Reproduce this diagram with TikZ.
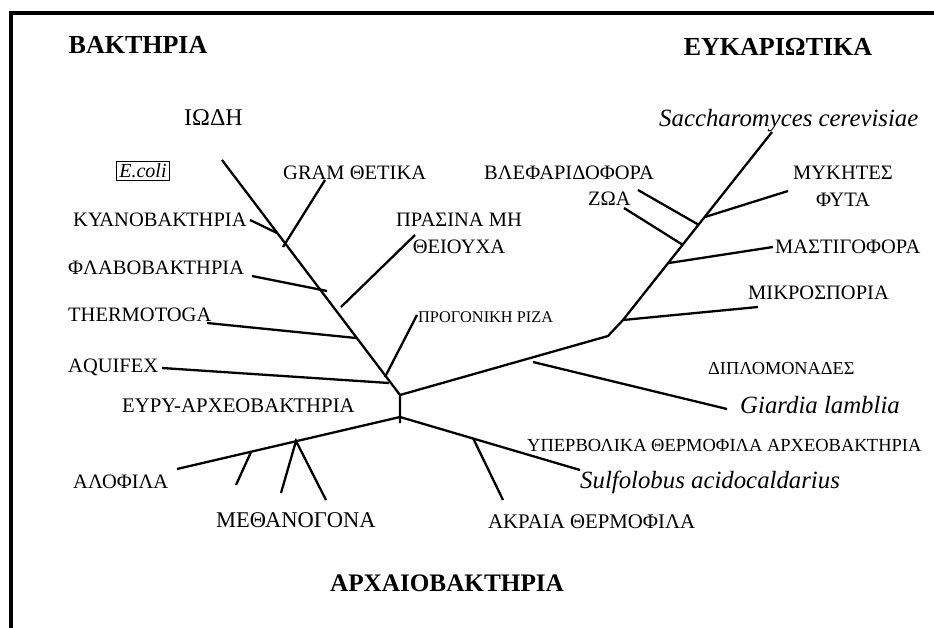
\documentclass[tikz,border=0pt]{standalone}
\usepackage{fontspec}
\setmainfont{Liberation Serif}
\usepackage{tikz}
\usetikzlibrary{positioning}
\tikzstyle{taxon} = [inner sep=0pt, anchor=west, font=\fontsize{20.5}{27}\selectfont]
\tikzstyle{kingdom} = [inner sep=0pt, font=\fontsize{26}{28}\selectfont\bfseries]
\tikzstyle{species} = [inner sep=0pt, anchor=base west, font=\fontsize{24.8}{26}\selectfont\itshape]
\tikzstyle{branch} = [line width=2.3pt]

\begin{document}
\begin{tikzpicture}[x=1pt,y=-1pt]
\useasboundingbox (0,0) rectangle (934,628);
\fill[white] (0,0) rectangle (934,628);
\draw[line width=3.5pt] (11,628) -- (11,13) -- (934,13);

\node[kingdom] (bact) at (138,45) {ΒΑΚΤΗΡΙΑ};
\node[kingdom] (euk) at (778,47) {ΕΥΚΑΡΙΩΤΙΚΑ};
\node[kingdom, font=\fontsize{25.2}{28}\selectfont\bfseries] (arch) at (447,583) {ΑΡΧΑΙΟΒΑΚΤΗΡΙΑ};

\node[taxon, font=\fontsize{24}{26}\selectfont] (iodi) at (184,118) {ΙΩΔΗ};
\node[draw, line width=0.8pt, inner sep=2.5pt, font=\fontsize{20}{22}\selectfont\itshape] (ecoli) at (143,171) {E.coli};
\node[taxon] (gram) at (283,173) {GRAM ΘΕΤΙΚΑ};
\node[taxon] (cyano) at (73,220) {ΚΥΑΝΟΒΑΚΤΗΡΙΑ};
\node[taxon, anchor=center, align=center] (green) at (459,233) {ΠΡΑΣΙΝΑ ΜΗ\\ΘΕΙΟΥΧΑ};
\node[taxon] (flavo) at (68,268) {ΦΛΑΒΟΒΑΚΤΗΡΙΑ};
\node[taxon] (thermo) at (68,315) {THERMOTOGA};
\node[taxon, font=\fontsize{16.3}{18}\selectfont] (origin) at (418,317) {ΠΡΟΓΟΝΙΚΗ ΡΙΖΑ};
\node[taxon] (aquifex) at (68,367) {AQUIFEX};
\node[taxon, font=\fontsize{20.8}{22}\selectfont] (eury) at (122,406) {ΕΥΡΥ-ΑΡΧΕΟΒΑΚΤΗΡΙΑ};
\node[taxon] (halo) at (73,482) {ΑΛΟΦΙΛΑ};
\node[taxon, font=\fontsize{22.5}{24}\selectfont] (methano) at (216,520) {ΜΕΘΑΝΟΓΟΝΑ};
\node[taxon, font=\fontsize{20.8}{22}\selectfont] (extreme) at (488,522) {ΑΚΡΑΙΑ ΘΕΡΜΟΦΙΛΑ};
\node[taxon, font=\fontsize{18.5}{20}\selectfont] (hyper) at (527,445) {ΥΠΕΡΒΟΛΙΚΑ ΘΕΡΜΟΦΙΛΑ ΑΡΧΕΟΒΑΚΤΗΡΙΑ};
\node[species] (sulfo) at (580,488) {Sulfolobus acidocaldarius};
\node[species] (giardia) at (740,413) {Giardia lamblia};
\node[taxon, font=\fontsize{18.3}{20}\selectfont] (diplo) at (708,369) {ΔΙΠΛΟΜΟΝΑΔΕΣ};
\node[taxon] (micro) at (748,293) {ΜΙΚΡΟΣΠΟΡΙΑ};
\node[taxon] (masti) at (775,247) {ΜΑΣΤΙΓΟΦΟΡΑ};
\node[taxon, anchor=center, align=center] (fungi) at (843,186) {ΜΥΚΗΤΕΣ\\ΦΥΤΑ};
\node[taxon] (cilia) at (484,173) {ΒΛΕΦΑΡΙΔΟΦΟΡΑ};
\node[taxon] (zoa) at (588,199) {ΖΩΑ};
\node[species] (sacch) at (659,127) {Saccharomyces cerevisiae};

\coordinate (rtop) at (400,395);
\coordinate (rbot) at (400,417);
\coordinate (rend) at (400,423);
\coordinate (btip) at (222,160);
\coordinate (efork) at (608,336);
\coordinate (ekink) at (623,320);
\coordinate (etip) at (772,132);
\coordinate (aleft) at (177,469);
\coordinate (aright) at (580,470);

\coordinate (cy1) at (250,220); \coordinate (cy2) at (277,233);
\coordinate (gr1) at (325,180); \coordinate (gr2) at (283,247);
\coordinate (fl1) at (252,276); \coordinate (fl2) at (327,291);
\coordinate (gs1) at (415,235); \coordinate (gs2) at (341,307);
\coordinate (th1) at (207,323); \coordinate (th2) at (356,338);
\coordinate (or1) at (417,315); \coordinate (or2) at (385,377);
\coordinate (aq1) at (162,368); \coordinate (aq2) at (389,383);

\coordinate (mi1) at (758,307);
\coordinate (gi1) at (533,362); \coordinate (gi2) at (727,409);
\coordinate (ma1) at (669,263); \coordinate (ma2) at (773,247);
\coordinate (zo1) at (624,208); \coordinate (zo2) at (683,245);
\coordinate (ci1) at (638,190); \coordinate (ci2) at (699,225);
\coordinate (fu1) at (705,217); \coordinate (fu2) at (788,191);

\coordinate (me0) at (296,441);
\coordinate (me1) at (281,493); \coordinate (me2) at (326,500);
\coordinate (ha1) at (251,452); \coordinate (ha2) at (236,485);
\coordinate (ex1) at (473,438); \coordinate (ex2) at (503,500);

\draw[branch] (btip) -- (rtop) -- (rend);
\draw[branch] (rtop) -- (efork) -- (ekink) -- (etip);
\draw[branch] (aleft) -- (rbot) -- (aright);

\draw[branch] (cy1) -- (cy2);
\draw[branch] (gr1) -- (gr2);
\draw[branch] (fl1) -- (fl2);
\draw[branch] (gs1) -- (gs2);
\draw[branch] (th1) -- (th2);
\draw[branch] (or1) -- (or2);
\draw[branch] (aq1) -- (aq2);

\draw[branch] (ekink) -- (mi1);
\draw[branch] (gi1) -- (gi2);
\draw[branch] (ma1) -- (ma2);
\draw[branch] (zo1) -- (zo2);
\draw[branch] (ci1) -- (ci2);
\draw[branch] (fu1) -- (fu2);

\draw[branch] (me1) -- (me0) -- (me2);
\draw[branch] (ha1) -- (ha2);
\draw[branch] (ex1) -- (ex2);
\end{tikzpicture}
\end{document}
